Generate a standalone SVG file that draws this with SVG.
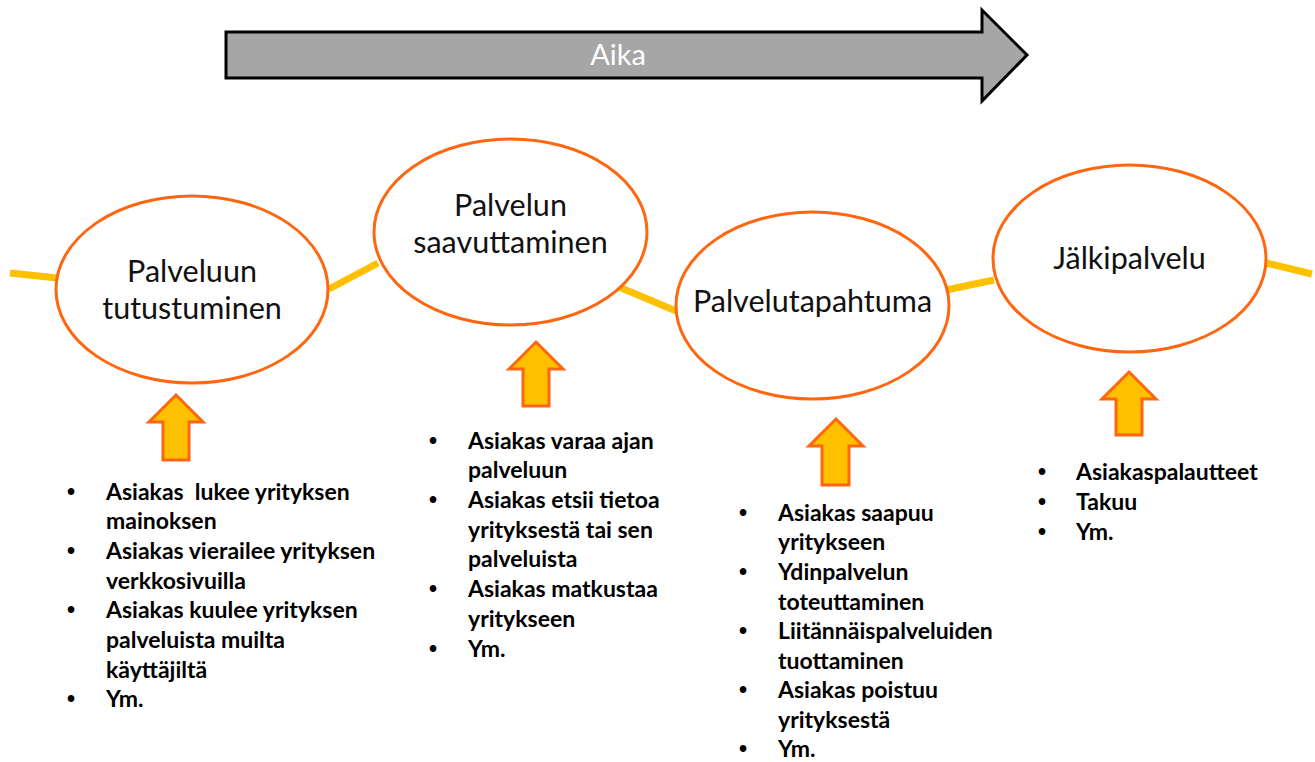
<svg xmlns="http://www.w3.org/2000/svg" width="1315" height="762" viewBox="0 0 1315 762">
  <style>
    .stage { fill: #ffffff; stroke: #ff6610; stroke-width: 3; }
    .title { font-family: Lato, "Liberation Sans", sans-serif; font-size: 30.5px; fill: #111; text-anchor: middle; }
    .link { stroke: #ffc000; stroke-width: 7; fill: none; }
    .up { fill: #ffc000; stroke: #ff6610; stroke-width: 3; stroke-linejoin: miter; }
    .list { font-family: Lato, "Liberation Sans", sans-serif; font-size: 23px; font-weight: bold; fill: #000; }
    .dot { font-family: "Liberation Sans", sans-serif; font-size: 23px; font-weight: bold; fill: #000; text-anchor: middle; }
  </style>
  <rect width="1315" height="762" fill="#ffffff"/>

  <!-- time arrow -->
  <g id="time">
    <polygon points="226,32 982,32 982,10 1027,55 982,101 982,78 226,78" fill="#a6a6a6" stroke="#000" stroke-width="3"/>
    <text x="618" y="65" font-family="Lato, 'Liberation Sans', sans-serif" font-size="29" fill="#fff" text-anchor="middle">Aika</text>
  </g>

  <!-- connecting strokes between the stages -->
  <g id="connectors">
    <line class="link" x1="10" y1="273" x2="57" y2="278"/>
    <line class="link" x1="329" y1="289" x2="378" y2="263"/>
    <line class="link" x1="619" y1="287" x2="676" y2="311"/>
    <line class="link" x1="946" y1="290" x2="994" y2="280"/>
    <line class="link" x1="1266" y1="263" x2="1312" y2="274"/>
  </g>

  <g id="stage1">
    <ellipse class="stage" cx="192" cy="289.5" rx="136" ry="93.5"/>
    <text class="title" x="192" y="282">Palveluun</text>
    <text class="title" x="192" y="319">tutustuminen</text>
  </g>
  <g id="stage2">
    <ellipse class="stage" cx="510.5" cy="232" rx="136.5" ry="93"/>
    <text class="title" x="510.5" y="216">Palvelun</text>
    <text class="title" x="510.5" y="253">saavuttaminen</text>
  </g>
  <g id="stage3">
    <ellipse class="stage" cx="812.5" cy="305.5" rx="136.5" ry="93.5"/>
    <text class="title" x="812.5" y="312">Palvelutapahtuma</text>
  </g>
  <g id="stage4">
    <ellipse class="stage" cx="1129.5" cy="258.5" rx="136.5" ry="93.5"/>
    <text class="title" x="1129.5" y="269">Jälkipalvelu</text>
  </g>

  <!-- upward arrows -->
  <g id="up1"><polygon class="up" points="176,395 203,422 189,422 189,460 163,460 163,422 149,422"/></g>
  <g id="up2"><polygon class="up" points="536,342 563,369 549,369 549,406 523,406 523,369 509,369"/></g>
  <g id="up3"><polygon class="up" points="836,419 863,446 849,446 849,485 822,485 822,446 809,446"/></g>
  <g id="up4"><polygon class="up" points="1129,372 1156,399 1142,399 1142,435 1116,435 1116,399 1102,399"/></g>

  <g id="list1">
    <text class="dot" x="71" y="500">•</text><text class="list" x="106" y="500" xml:space="preserve">Asiakas  lukee yrityksen</text>
    <text class="list" x="106" y="529">mainoksen</text>
    <text class="dot" x="71" y="559">•</text><text class="list" x="106" y="559">Asiakas vierailee yrityksen</text>
    <text class="list" x="106" y="589">verkkosivuilla</text>
    <text class="dot" x="71" y="618">•</text><text class="list" x="106" y="618">Asiakas kuulee yrityksen</text>
    <text class="list" x="106" y="648">palveluista muilta</text>
    <text class="list" x="106" y="678">käyttäjiltä</text>
    <text class="dot" x="71" y="707">•</text><text class="list" x="106" y="707">Ym.</text>
  </g>

  <g id="list2">
    <text class="dot" x="433" y="449">•</text><text class="list" x="468" y="449">Asiakas varaa ajan</text>
    <text class="list" x="468" y="478">palveluun</text>
    <text class="dot" x="433" y="508">•</text><text class="list" x="468" y="508">Asiakas etsii tietoa</text>
    <text class="list" x="468" y="538">yrityksestä tai sen</text>
    <text class="list" x="468" y="567">palveluista</text>
    <text class="dot" x="433" y="597">•</text><text class="list" x="468" y="597">Asiakas matkustaa</text>
    <text class="list" x="468" y="627">yritykseen</text>
    <text class="dot" x="433" y="657">•</text><text class="list" x="468" y="657">Ym.</text>
  </g>

  <g id="list3">
    <text class="dot" x="743" y="521">•</text><text class="list" x="778" y="521">Asiakas saapuu</text>
    <text class="list" x="778" y="550">yritykseen</text>
    <text class="dot" x="743" y="580">•</text><text class="list" x="778" y="580">Ydinpalvelun</text>
    <text class="list" x="778" y="610">toteuttaminen</text>
    <text class="dot" x="743" y="639">•</text><text class="list" x="778" y="639">Liitännäispalveluiden</text>
    <text class="list" x="778" y="669">tuottaminen</text>
    <text class="dot" x="743" y="698">•</text><text class="list" x="778" y="698">Asiakas poistuu</text>
    <text class="list" x="778" y="728">yrityksestä</text>
    <text class="dot" x="743" y="757">•</text><text class="list" x="778" y="757">Ym.</text>
  </g>

  <g id="list4">
    <text class="dot" x="1042" y="480">•</text><text class="list" x="1076" y="480">Asiakaspalautteet</text>
    <text class="dot" x="1042" y="510">•</text><text class="list" x="1076" y="510">Takuu</text>
    <text class="dot" x="1042" y="540">•</text><text class="list" x="1076" y="540">Ym.</text>
  </g>
</svg>
